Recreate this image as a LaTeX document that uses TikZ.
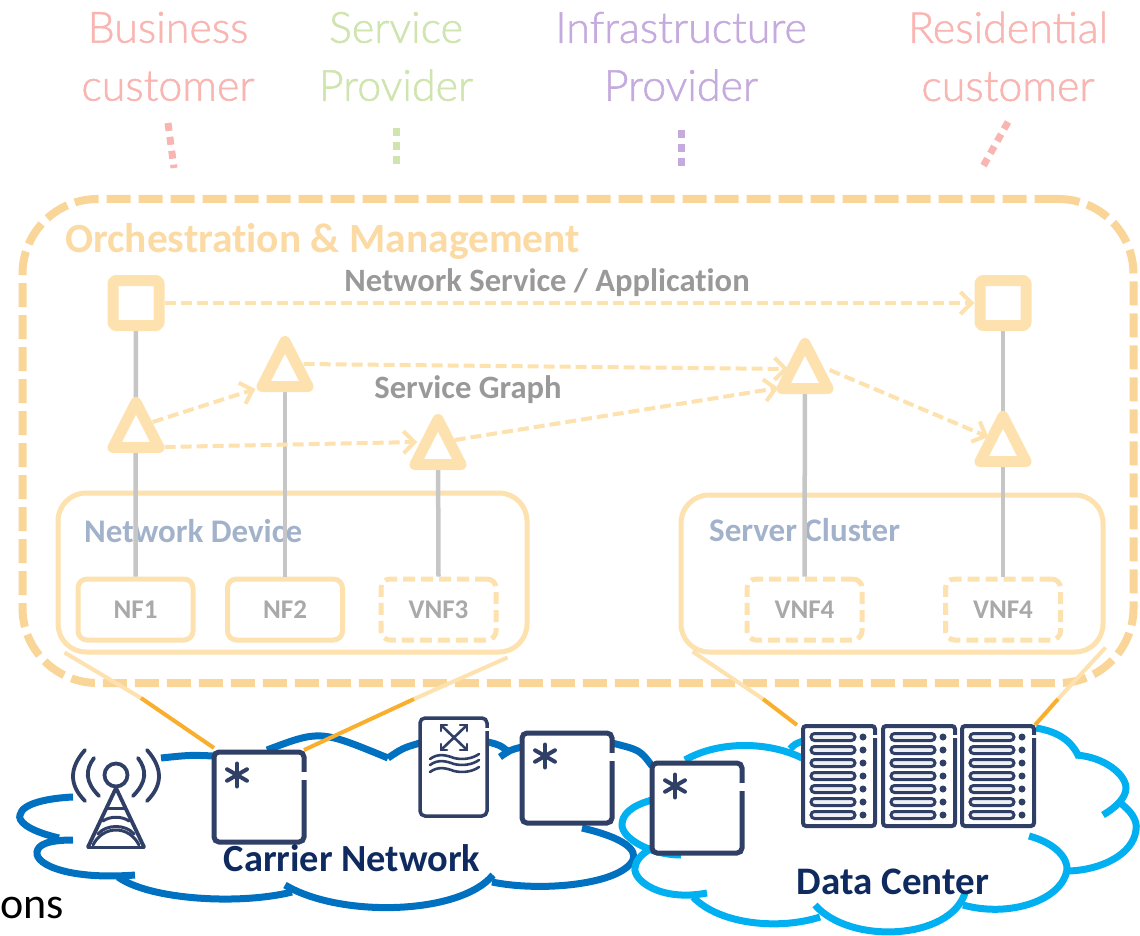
\documentclass[tikz,border=0pt]{standalone}
\usepackage{fontspec}
\setmainfont{Carlito}[Ligatures=NoCommon]
\newfontfamily\thinfont[FakeBold=1.3]{Lato Light}
\usetikzlibrary{arrows.meta,calc}
\definecolor{orchdash}{HTML}{F9D598}
\definecolor{orchlight}{HTML}{FDE1AE}
\definecolor{orchtext}{HTML}{FBDAA4}
\definecolor{grayline}{HTML}{C6C6C6}
\definecolor{graytext}{HTML}{999999}
\definecolor{boxtext}{HTML}{A9A9A9}
\definecolor{devtext}{HTML}{A3B2CB}
\definecolor{funnel}{HTML}{F9AE2E}
\definecolor{carrier}{HTML}{0070C0}
\definecolor{dcblue}{HTML}{00B0F0}
\definecolor{navy}{HTML}{0F2A5F}
\definecolor{icon}{HTML}{303F66}
\definecolor{pink}{HTML}{F8B5B1}
\definecolor{green}{HTML}{CFE4AE}
\definecolor{purple}{HTML}{C5ABDD}
\tikzset{
  role/.style={font=\thinfont\fontsize{43}{58}\selectfont,align=center,inner sep=0pt},
  tick/.style={line width=7pt,dash pattern=on 8pt off 6pt},
  cloudA/.style={draw=carrier,line width=7pt},
  cloudB/.style={draw=dcblue,line width=7pt},
  vlink/.style={draw=grayline,line width=4.5pt},
  flow/.style={draw=orchlight,line width=4pt,dash pattern=on 11pt off 5pt,
     -{Straight Barb[length=11pt,width=22pt,line width=4pt]}},
  marker/.style={draw=orchlight,line width=11pt,fill=white,line join=round},
  markernode/.style={minimum width=57pt,minimum height=56pt,inner sep=0pt},
  fnbox/.style={draw=orchlight,line width=5pt,rounded corners=9pt,fill=white,minimum width=115pt,minimum height=61pt,inner sep=0pt,font=\bfseries\fontsize{27}{30}\selectfont,text=boxtext},
  vnf/.style={fnbox,dash pattern=on 12pt off 6pt},
  groupbox/.style={draw=orchlight,line width=5pt,rounded corners=28pt},
  funlight/.style={draw=orchlight,line width=4pt},
  funstrong/.style={draw=funnel,line width=4pt},
  switchbox/.style={draw=icon,line width=5pt,rounded corners=5pt,fill=white},
  iconline/.style={draw=icon,line width=3.8pt,line cap=round},
}
\newcommand{\tri}[3]{% name, x, apex y
  \draw[marker] (#2,#3+5.5) -- (#2+23,#3+50.5) -- (#2-23,#3+50.5) -- cycle;
  \node[markernode] (#1) at (#2,#3+28) {};
}
\newcommand{\sq}[3]{% name, x, y
  \node[markernode,marker,rounded corners=3pt,minimum width=46pt,minimum height=45pt] (#1) at (#2,#3) {};
}
\newcommand{\swbox}[5]{% name x1 y1 x2 y2
  \draw[switchbox] (#2,#3) rectangle (#4,#5);
  \node[inner sep=0pt,minimum size=0pt] (#1) at ({(#2+#4)/2},{(#3+#5)/2}) {};
  \draw[white,line width=7pt] (#4,#3+20) -- (#4,#3+28);
  \foreach \a in {90,150,210,270,330,30}
    \draw[iconline,line width=4pt] (#2+23,#3+23) -- ++(\a:11.5);
}
\newcommand{\rack}[2]{% name x
  \draw[switchbox,line width=4pt,rounded corners=3pt] (#2,726) rectangle (#2+72,826);
  \node[inner sep=0pt,minimum size=0pt] (#1) at (#2+36,776) {};
  \draw[white,line width=5.5pt] (#2+72,735) -- (#2+72,738);
  \foreach \yy in {737,750,763,776,789,802,815}{
    \draw[draw=icon,line width=3pt,fill=icon!8,rounded corners=3.5pt] (#2+8,\yy-3.5) rectangle (#2+52,\yy+3.5);
    \fill[icon] (#2+60,\yy) circle (3.5);
  }
}
\begin{document}
\begin{tikzpicture}[x=1pt,y=-1pt]
\useasboundingbox (0,0) rectangle (1140,936);

% roles
\node[role,text=pink] (biz) at (168,56.5) {Business\\customer};
\node[role,text=green] (sp) at (396,56.5) {Service\\Provider};
\node[role,text=purple] (ip) at (681,56.5) {Infrastructure\\Provider};
\node[role,text=pink] (res) at (1008,56.5) {Residential\\customer};
\coordinate (b1) at (168,123); \coordinate (b2) at (174,168);
\coordinate (s1) at (396,128); \coordinate (s2) at (396,168);
\coordinate (i1) at (681,130); \coordinate (i2) at (681,170);
\coordinate (r1) at (1008,122); \coordinate (r2) at (981,170);
\draw[tick,pink] (b1) -- (b2);
\draw[tick,green] (s1) -- (s2);
\draw[tick,purple] (i1) -- (i2);
\draw[tick,pink] (r1) -- (r2);

% orchestration frame
\node[draw=orchdash,line width=8pt,rounded corners=75pt,dash pattern=on 24pt off 8pt,minimum width=1111pt,minimum height=484pt,inner sep=0pt] (orch) at (578,441) {};
\node[anchor=west,inner sep=0pt,text=orchtext,font=\bfseries\fontsize{41.5}{44}\selectfont] (orcht) at (65,241) {Orchestration \& Management};
\node[inner sep=0pt,text=graytext,font=\bfseries\fontsize{32.6}{36}\selectfont] (nsa) at (547,283) {Network Service / Application};
\node[inner sep=0pt,text=graytext,font=\bfseries\fontsize{32.6}{36}\selectfont] (sg) at (468,390) {Service Graph};

% group boxes
\node[groupbox,minimum width=469pt,minimum height=159pt,inner sep=0pt] (dev) at (292.5,572.5) {};
\node[groupbox,minimum width=422pt,minimum height=157pt,inner sep=0pt] (clu) at (892,573.5) {};
\node[anchor=west,inner sep=0pt,text=devtext,font=\bfseries\fontsize{33}{36}\selectfont] (devt) at (84,531) {Network Device};
\node[anchor=west,inner sep=0pt,text=devtext,font=\bfseries\fontsize{33}{36}\selectfont] (clut) at (709,530) {Server Cluster};

% function boxes
\node[fnbox] (nf1) at (135.5,609.5) {NF1};
\node[fnbox] (nf2) at (285,609.5) {NF2};
\node[vnf] (vnf3) at (438.5,609.5) {VNF3};
\node[vnf] (vnf4a) at (804.5,609.5) {VNF4};
\node[vnf] (vnf4b) at (1003,609.5) {VNF4};

% anchors of markers (shapes drawn on top)
\node[markernode] (q1) at (136,303) {};
\node[markernode] (q2) at (1003,303) {};
\node[markernode] (t1) at (136,425) {};
\node[markernode] (t2) at (285,364) {};
\node[markernode] (t3) at (438,442) {};
\node[markernode] (t4) at (805,365) {};
\node[markernode] (t5) at (1003,439) {};

% vertical links
\draw[vlink] (q1) -- (nf1.north);
\draw[vlink] (t2) -- (nf2.north);
\draw[vlink] (t3) -- (vnf3.north);
\draw[vlink] (t4) -- (vnf4a.north);
\draw[vlink] (q2) -- (vnf4b.north);

% flows
\draw[flow] (q1.east) -- (q2.west);
\draw[flow] ($(t2.east)+(-10,0)$) -- ($(t4.west)+(12,4)$);
\draw[flow] ($(t1.east)+(-12,-3)$) -- ($(t2.west)+(-1,25)$);
\draw[flow] ($(t1.east)+(0,22)$) -- ($(t3.west)+(8,0)$);
\draw[flow] ($(t3.east)+(-12,-2)$) -- ($(t4.west)+(2,23)$);
\draw[flow] ($(t4.east)+(-4,5)$) -- ($(t5.west)+(14,-2)$);

% markers
\sq{q1x}{136}{303}
\sq{q2x}{1003}{303}
\tri{t1x}{136}{397}
\tri{t2x}{285}{336}
\tri{t3x}{438}{414}
\tri{t4x}{805}{338}
\tri{t5x}{1003}{411}

% clouds
\draw[cloudA] (161,758) .. controls (190,755) .. (214,756);
\draw[cloudA] (267,750) .. controls (320,730) .. (388,758);
\draw[cloudA] (388,758) .. controls (403,748) .. (420,743);
\draw[cloudA] (488,742) .. controls (500,745) .. (510,753);
\draw[cloudA] (500,757) .. controls (510,750) .. (522,747);
\draw[cloudA] (612,743) .. controls (640,750) .. (652,766);
\draw[cloudA] (582,828) .. controls (625,838) and (637,850) .. (633,860) .. controls (620,885) and (540,892) .. (492,882);
\draw[cloudA] (493,875) .. controls (460,915) and (340,918) .. (285,885);
\draw[cloudA] (292,892) .. controls (240,905) and (150,900) .. (118,877);
\draw[cloudA] (135,875) .. controls (70,880) and (35,865) .. (37,852) .. controls (38,845) and (47,840) .. (73,840);
\draw[cloudA] (59,838) .. controls (25,830) and (18,820) .. (20,815) .. controls (22,803) and (50,798) .. (73,797);

\draw[cloudB] (685,760) .. controls (720,740) and (770,742) .. (802,758);
\draw[cloudB] (790,749) .. controls (795,744) .. (803,741);
\draw[cloudB] (1036,728) .. controls (1060,732) and (1072,742) .. (1079,757);
\draw[cloudB] (1076,755) .. controls (1105,757) and (1126,775) .. (1126,788) .. controls (1126,798) and (1115,808) .. (1103,815);
\draw[cloudB] (1119,802) .. controls (1130,810) and (1138,820) .. (1136,830) .. controls (1133,855) and (1100,870) .. (1069,871);
\draw[cloudB] (1029,836) .. controls (1055,843) and (1068,858) .. (1067,870) .. controls (1062,900) and (1010,918) .. (963,905);
\draw[cloudB] (965,893) .. controls (950,940) and (850,945) .. (815,905);
\draw[cloudB] (820,917) .. controls (780,930) and (720,925) .. (693,897);
\draw[cloudB] (707,893) .. controls (660,902) and (633,880) .. (635,868) .. controls (636,858) and (645,852) .. (652,848);
\draw[cloudB] (652,800) .. controls (630,806) and (622,815) .. (622,825) .. controls (622,838) and (650,855) .. (681,855);

% switches
\swbox{sw1}{214}{752}{304}{842}
\swbox{sw2}{522}{733}{612}{823}
\swbox{sw3}{652}{763}{742}{853}

% optical box
\draw[switchbox,line width=3.5pt] (420,718) rectangle (487,816);
\node[inner sep=0pt,minimum size=0pt] (opt) at (453.5,767) {};
\draw[white,line width=4.5pt] (487,728) -- (487,731);
\begin{scope}[iconline,line width=2.6pt]
\draw (441,731) -- (441,725) -- (447,725) (460,725) -- (467,725) -- (467,731) (441,744) -- (441,750) -- (447,750) (467,744) -- (467,750) -- (460,750);
\draw (442,726) -- (466,749) (466,726) -- (442,749);
\foreach \yy in {757,763,770}
  \draw (430,\yy+2) .. controls (438,\yy-4) and (446,\yy-2) .. (454,\yy+1) .. controls (462,\yy+3) and (472,\yy+2) .. (479,\yy-3);
\end{scope}

% racks
\rack{ra1}{803}
\rack{ra2}{883}
\rack{ra3}{962}

% tower
\coordinate (tw) at (116,775);
\begin{scope}[iconline]
\draw (85,750) .. controls (69,768) and (69,785) .. (85,801);
\draw (147,750) .. controls (163,768) and (163,785) .. (147,801);
\draw (94,758) .. controls (85,770) and (85,782) .. (99,796);
\draw (138,758) .. controls (147,770) and (147,782) .. (133,796);
\draw (tw) circle (11.5);
\draw (116,788) -- (88,847) (116,788) -- (144,847);
\draw[line width=3pt] (88,847) -- (144,847);
\draw[line width=3pt] (93,845) .. controls (103,825) and (129,825) .. (139,845);
\draw[line width=3pt] (98,834) .. controls (106,824) and (126,824) .. (134,834);
\draw[line width=3pt] (103,821) .. controls (110,816) and (122,816) .. (129,821);
\draw[line width=3pt] (107,808) -- (125,808);
\end{scope}

% funnels
\coordinate (fa) at (141,698); \coordinate (fb) at (414,699);
\coordinate (fc) at (763,699); \coordinate (fd) at (1058,699);
\coordinate (fae) at (214,748); \coordinate (fbe) at (304,750);
\coordinate (fce) at (797,725); \coordinate (fde) at (1035,725);
\draw[funlight] (dev.south west) ++(9,-2) -- (fa);
\draw[funstrong] (fa) -- (fae);
\draw[funlight] (dev.south east) ++(-22,3) -- (fb);
\draw[funstrong] (fb) -- (fbe);
\draw[funlight] (clu.south west) ++(14,-3) -- (fc);
\draw[funstrong] (fc) -- (fce);
\draw[funlight] (clu.south east) ++(0,-7) -- (fd);
\draw[funstrong] (fd) -- (fde);

% captions
\node[inner sep=0pt,text=navy,font=\bfseries\fontsize{38.4}{40}\selectfont] (cn) at (352,858) {Carrier Network};
\node[inner sep=0pt,text=navy,font=\bfseries\fontsize{39}{41}\selectfont] (dc) at (893,882) {Data Center};
\node[anchor=west,inner sep=0pt,text=black,font=\fontsize{44}{46}\selectfont] (ons) at (0,908) {ons};
\end{tikzpicture}
\end{document}
